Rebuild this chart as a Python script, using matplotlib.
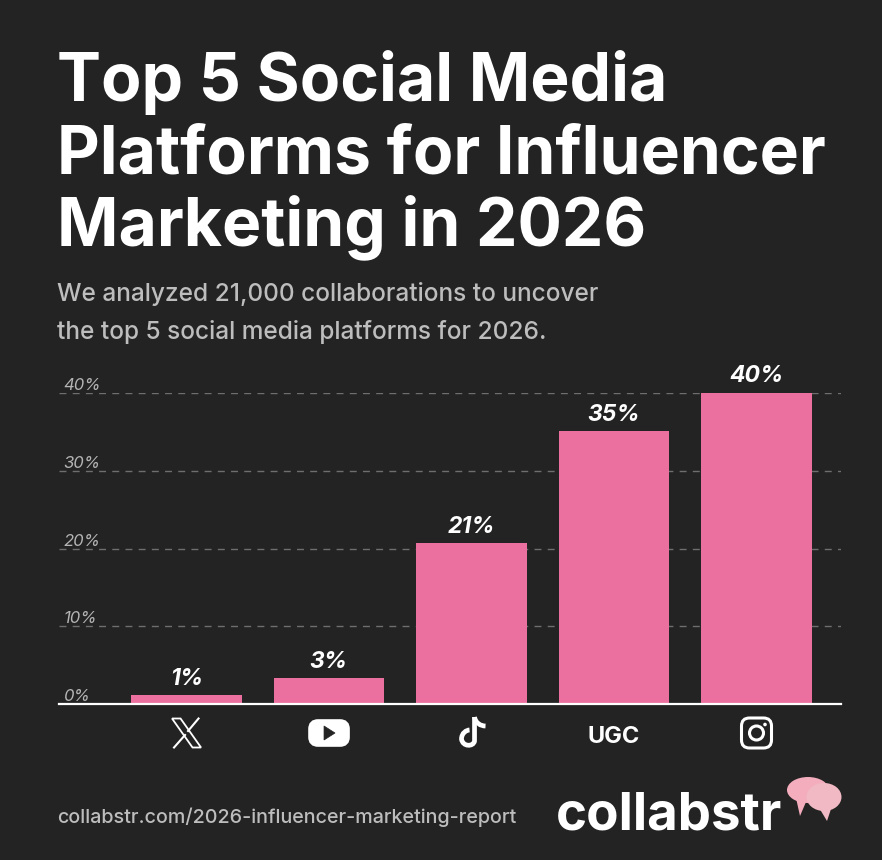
"""
Top 5 social media platforms bar chart, dark card style.
"""
import matplotlib
matplotlib.use("Agg")
import matplotlib.pyplot as plt
import matplotlib.patches as patches
from matplotlib.path import Path

platforms = ["X", "YouTube", "TikTok", "UGC", "Instagram"]
shares = [1.1, 3.3, 20.7, 35.1, 40.0]
share_labels = ["1%", "3%", "21%", "35%", "40%"]
y_ticks = [0, 10, 20, 30, 40]
y_tick_labels = ["0%", "10%", "20%", "30%", "40%"]

title_lines = ["Top 5 Social Media", "Platforms for Influencer", "Marketing in 2026"]
subtitle_lines = ["We analyzed 21,000 collaborations to uncover",
                  "the top 5 social media platforms for 2026."]
footer_url = "collabstr.com/2026-influencer-marketing-report"

BG = "#232323"
PINK = "#ec709f"
W, H = 882, 860

plt.rcParams["font.family"] = ["Inter", "DejaVu Sans"]

fig = plt.figure(figsize=(W / 100, H / 100), dpi=100, facecolor=BG)

# overlay in pixel coordinates, y pointing down
ov = fig.add_axes([0, 0, 1, 1])
ov.set_xlim(0, W)
ov.set_ylim(H, 0)
ov.axis("off")

# ============================================
# HEADER
# ============================================
for line, y in zip(title_lines, [101, 173, 245]):
    ov.text(57, y, line, color="white", fontsize=47.5, fontweight="bold", va="baseline")

for line, y in zip(subtitle_lines, [301, 339]):
    ov.text(57, y, line, color="#bdbdbd", fontsize=17.6, fontweight="medium", va="baseline")

# ============================================
# CHART
# ============================================
ax = fig.add_axes([59 / W, (H - 704) / H, 782 / W, 311 / H], facecolor="none")
x_pos = list(range(len(platforms)))
ax.bar(x_pos, shares, width=0.776, color=PINK, zorder=3)
ax.set_xlim(-0.895, 4.593)
ax.set_ylim(0, 40)

for x, val, lab in zip(x_pos, shares, share_labels):
    ax.annotate(lab, (x, val), xytext=(0, 4), textcoords="offset points", ha="center",
                va="bottom", color="white", fontsize=16.5, fontweight="bold", style="italic")

ax.set_yticks(y_ticks)
ax.set_yticklabels(y_tick_labels, color="#b5b5b5", fontsize=12, style="italic")
ax.tick_params(axis="y", length=0, pad=-3)
for lab in ax.get_yticklabels():
    lab.set_ha("left")
    lab.set_va("bottom")
    lab.set_y(0.3)
ax.yaxis.grid(True, color="#6e6e6e", linewidth=1, linestyle=(0, (5, 4.5)), zorder=1)
ax.set_axisbelow(True)

ax.set_xticks(x_pos)
ax.set_xticklabels([p if p == "UGC" else "" for p in platforms], color="white",
                   fontsize=17, fontweight="bold")
ax.tick_params(axis="x", length=0, pad=16)
for side in ["top", "left", "right"]:
    ax.spines[side].set_visible(False)
ax.spines["bottom"].set_color("white")
ax.spines["bottom"].set_linewidth(1.6)
ax.spines["bottom"].set_zorder(5)


# ============================================
# ICONS (pixel coordinates on the overlay)
# ============================================
def icon_x(cx, cy):
    s = 14.5
    outer = [(-s, -s), (-s + 8.5, -s), (s, s), (s - 8.5, s)]
    ov.add_patch(patches.Polygon([(cx + a, cy + b) for a, b in outer], closed=True,
                                 fill=False, edgecolor="white", linewidth=1.3))
    ov.plot([cx + 12, cx + 1.5], [cy - 14.5, cy - 2], color="white", lw=1.5)
    ov.plot([cx - 12.5, cx - 1.5], [cy + 14.5, cy + 2], color="white", lw=1.5)


def icon_youtube(cx, cy):
    ov.add_patch(patches.FancyBboxPatch((cx - 17, cy - 10), 34, 20,
                                        boxstyle="round,pad=0,rounding_size=6",
                                        facecolor="white", edgecolor="white", linewidth=5.5))
    ov.add_patch(patches.Polygon([(cx - 5, cy - 7), (cx - 5, cy + 7), (cx + 6, cy)],
                                 closed=True, facecolor=BG, edgecolor=BG, linewidth=0.5))


def icon_tiktok(cx, cy):
    verts = [(cx + 3, cy - 16), (cx + 3, cy + 8),
             (cx + 2, cy + 14), (cx - 9, cy + 14), (cx - 10, cy + 6),
             (cx - 10, cy + 0), (cx - 5, cy - 3), (cx - 2, cy - 3)]
    codes = [Path.MOVETO, Path.LINETO, Path.CURVE4, Path.CURVE4, Path.CURVE4,
             Path.CURVE4, Path.CURVE4, Path.CURVE4]
    ov.add_patch(patches.PathPatch(Path(verts, codes), fill=False, edgecolor="white",
                                   linewidth=3.4, capstyle="butt"))
    curl = [(cx + 3, cy - 16), (cx + 4, cy - 10), (cx + 9, cy - 7), (cx + 14, cy - 7)]
    ov.add_patch(patches.PathPatch(Path(curl, [Path.MOVETO, Path.CURVE4, Path.CURVE4, Path.CURVE4]),
                                   fill=False, edgecolor="white", linewidth=3.4))


def icon_instagram(cx, cy):
    ov.add_patch(patches.FancyBboxPatch((cx - 15, cy - 15), 30, 30,
                                        boxstyle="round,pad=0,rounding_size=8",
                                        fill=False, edgecolor="white", linewidth=2.2))
    ov.add_patch(patches.Circle((cx, cy), 7, fill=False, edgecolor="white", linewidth=2.2))
    ov.add_patch(patches.Circle((cx + 8.5, cy - 8.5), 1.8, facecolor="white", edgecolor="none"))


icon_drawers = {"X": icon_x, "YouTube": icon_youtube, "TikTok": icon_tiktok,
                "Instagram": icon_instagram}
for x, name in zip(x_pos, platforms):
    if name in icon_drawers:
        px = ax.transData.transform((x, 0))[0]
        icon_drawers[name](px, 733)

# ============================================
# FOOTER
# ============================================
ov.text(57, 823, footer_url, color="#bdbdbd", fontsize=14.2, fontweight="medium", va="baseline")
ov.text(556, 829, "collabstr", color="white", fontsize=38, fontweight="bold", va="baseline")


def bubble(cx, cy, rx, ry, tail, color, z):
    ov.add_patch(patches.Ellipse((cx, cy), 2 * rx, 2 * ry, facecolor=color, edgecolor="none", zorder=z))
    ov.add_patch(patches.Polygon(tail, closed=True, facecolor=color, edgecolor="none", zorder=z))


bubble(808, 790, 21, 13, [(796, 798), (806, 802), (800, 816)], "#f4adbd", 4)
bubble(824, 797, 17.5, 14, [(818, 806), (832, 806), (827, 821)], "#f1b9c4", 5)

fig.savefig("out.png", dpi=100, facecolor=BG)
